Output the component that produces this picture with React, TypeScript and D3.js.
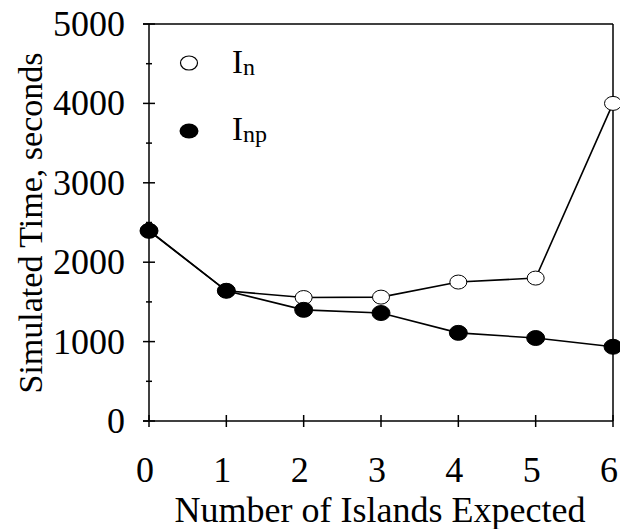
import React from "react";
import * as d3 from "d3";

const islands = [0, 1, 2, 3, 4, 5, 6];
const seriesIn = [2400, 1640, 1555, 1560, 1750, 1800, 4000];
const seriesInp = [2395, 1640, 1400, 1360, 1110, 1045, 935];
const yTicks = [0, 1000, 2000, 3000, 4000, 5000];
const yMinor = [500, 1500, 2500, 3500, 4500];

const W = 620, H = 529;
const FONT = "Liberation Serif, Times New Roman, Times, serif";

export default function App() {
  const x = d3.scaleLinear().domain([0, 6]).range([149, 613]);
  const y = d3.scaleLinear().domain([0, 5000]).range([421, 24]);
  const line = d3.line<number>().x((_, i) => x(islands[i])).y((d) => y(d));

  return (
    <svg width={W} height={H} style={{ position: "absolute", left: 0, top: 0, fontFamily: FONT }}>
      <rect width={W} height={H} fill="#fff" />
      {/* frame */}
      <line x1={x(0)} x2={x(0)} y1={y(0)} y2={y(5000)} stroke="#000" strokeWidth={1.5} />
      <line x1={143} x2={x(6)} y1={y(0)} y2={y(0)} stroke="#000" strokeWidth={1.5} />
      <line x1={143} x2={x(6)} y1={y(5000)} y2={y(5000)} stroke="#000" strokeWidth={1.5} />
      <line x1={x(6)} x2={x(6)} y1={y(0)} y2={y(5000)} stroke="#000" strokeWidth={1.5} />
      {yTicks.map((t) => (
        <g key={t}>
          <line x1={143} x2={155} y1={y(t)} y2={y(t)} stroke="#000" strokeWidth={1.5} />
          <text x={125} y={y(t) + 12} textAnchor="end" fontSize={36} style={{ fontFamily: FONT }}>{t}</text>
        </g>
      ))}
      {yMinor.map((t) => (
        <line key={t} x1={146} x2={152} y1={y(t)} y2={y(t)} stroke="#000" strokeWidth={1.5} />
      ))}
      {islands.map((t) => (
        <g key={t}>
          <line x1={x(t)} x2={x(t)} y1={y(0) - 6} y2={y(0) + 6} stroke="#000" strokeWidth={1.5} />
          <text x={x(t) - 4} y={482} textAnchor="middle" fontSize={36} style={{ fontFamily: FONT }}>{t}</text>
        </g>
      ))}
      <text x={380} y={522} textAnchor="middle" fontSize={36} style={{ fontFamily: FONT }}>Number of Islands Expected</text>
      <text transform={`translate(42,223) rotate(-90)`} textAnchor="middle" fontSize={34} style={{ fontFamily: FONT }}>Simulated Time, seconds</text>

      <path d={line(seriesIn) || ""} fill="none" stroke="#000" strokeWidth={1.6} />
      <path d={line(seriesInp) || ""} fill="none" stroke="#000" strokeWidth={1.6} />
      {seriesIn.map((v, i) => (
        <ellipse key={"a" + i} cx={x(islands[i])} cy={y(v)} rx={8.5} ry={7} fill="#fff" stroke="#000" strokeWidth={1} />
      ))}
      {seriesInp.map((v, i) => (
        <ellipse key={"b" + i} cx={x(islands[i])} cy={y(v)} rx={9} ry={7.5} fill="#000" stroke="#000" strokeWidth={1} />
      ))}

      {/* legend */}
      <ellipse cx={189} cy={63} rx={8.5} ry={7} fill="#fff" stroke="#000" strokeWidth={1.2} />
      <text x={232} y={73} fontSize={33} style={{ fontFamily: FONT }}>I<tspan fontSize={24} dy={2}>n</tspan></text>
      <ellipse cx={189} cy={131} rx={9.5} ry={7.5} fill="#000" />
      <text x={232} y={140} fontSize={33} style={{ fontFamily: FONT }}>I<tspan fontSize={24} dy={2}>np</tspan></text>
    </svg>
  );
}
